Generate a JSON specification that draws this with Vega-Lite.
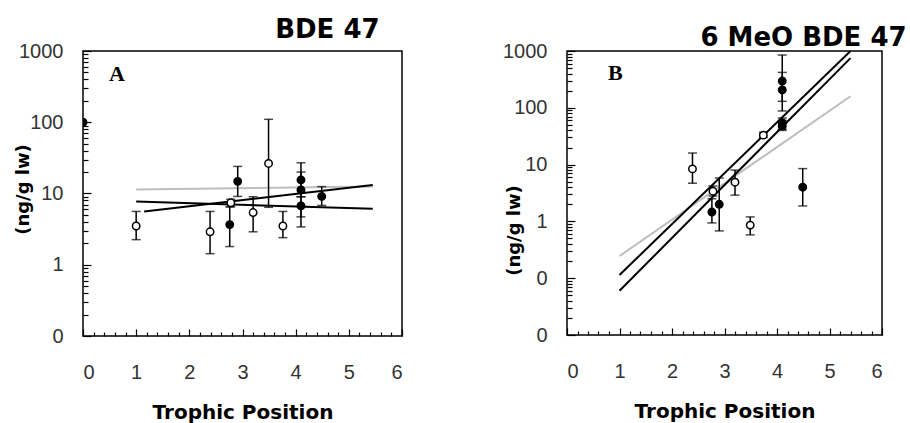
{
  "$schema": "https://vega.github.io/schema/vega-lite/v6.json",
  "padding": {"left": 13, "top": 16, "right": 2, "bottom": 2},
  "spacing": 97,
  "config": {
    "view": {"stroke": "black", "strokeWidth": 1.5},
    "axis": {"domain": false, "grid": false, "labelFont": "Liberation Sans", "labelFontSize": 20, "labelFontWeight": "normal", "labelColor": "#333", "titleFont": "DejaVu Sans", "titleFontWeight": "bold", "titleColor": "black", "tickColor": "black", "tickWidth": 1.2, "labelOverlap": false},
    "title": {"font": "DejaVu Sans", "fontWeight": "bold", "fontSize": 26, "color": "black"}
  },
  "datasets": {
    "pts": [
      {"panel": "A", "x": 1.0, "y": 3.5, "lo": 2.25, "hi": 5.6, "kind": "open"},
      {"panel": "A", "x": 2.39, "y": 2.9, "lo": 1.43, "hi": 5.6, "kind": "open"},
      {"panel": "A", "x": 2.78, "y": 7.4, "lo": 6.5, "hi": 8.3, "kind": "open"},
      {"panel": "A", "x": 3.2, "y": 5.4, "lo": 2.9, "hi": 9.0, "kind": "open"},
      {"panel": "A", "x": 3.49, "y": 26.4, "lo": 6.4, "hi": 110, "kind": "open"},
      {"panel": "A", "x": 3.76, "y": 3.5, "lo": 2.4, "hi": 5.6, "kind": "open"},
      {"panel": "A", "x": 2.76, "y": 3.66, "lo": 1.8, "hi": 6.5, "kind": "filled"},
      {"panel": "A", "x": 2.91, "y": 14.8, "lo": 9.1, "hi": 24, "kind": "filled"},
      {"panel": "A", "x": 4.1, "y": 15.5, "lo": 9.0, "hi": 27, "kind": "filled"},
      {"panel": "A", "x": 4.1, "y": 11.2, "lo": 4.7, "hi": 20, "kind": "filled"},
      {"panel": "A", "x": 4.1, "y": 6.7, "lo": 3.4, "hi": 9.0, "kind": "filled"},
      {"panel": "A", "x": 4.49, "y": 9.1, "lo": 6.8, "hi": 12.5, "kind": "filled"},
      {"panel": "A", "x": 0.0, "y": 100, "lo": null, "hi": null, "kind": "filled"},
      {"panel": "B", "x": 2.39, "y": 8.4, "lo": 4.7, "hi": 16, "kind": "open"},
      {"panel": "B", "x": 2.78, "y": 3.4, "lo": 2.8, "hi": 4.2, "kind": "open"},
      {"panel": "B", "x": 3.2, "y": 4.9, "lo": 2.9, "hi": 8.0, "kind": "open"},
      {"panel": "B", "x": 3.49, "y": 0.86, "lo": 0.58, "hi": 1.2, "kind": "open"},
      {"panel": "B", "x": 3.74, "y": 33, "lo": 30, "hi": 37, "kind": "open"},
      {"panel": "B", "x": 2.76, "y": 1.46, "lo": 0.94, "hi": 2.5, "kind": "filled"},
      {"panel": "B", "x": 2.9, "y": 2.0, "lo": 0.68, "hi": 5.8, "kind": "filled"},
      {"panel": "B", "x": 4.1, "y": 296, "lo": 130, "hi": 850, "kind": "filled"},
      {"panel": "B", "x": 4.1, "y": 206, "lo": 88, "hi": 420, "kind": "filled"},
      {"panel": "B", "x": 4.1, "y": 54, "lo": 40, "hi": 66, "kind": "filled"},
      {"panel": "B", "x": 4.1, "y": 48, "lo": 42, "hi": 60, "kind": "filled"},
      {"panel": "B", "x": 4.49, "y": 4.0, "lo": 1.87, "hi": 8.5, "kind": "filled"}
    ],
    "fits": [
      {"panel": "A", "fit": "all", "x": 1.0, "y": 11.4},
      {"panel": "A", "fit": "all", "x": 5.45, "y": 12.5},
      {"panel": "A", "fit": "open", "x": 1.0, "y": 7.7},
      {"panel": "A", "fit": "open", "x": 5.45, "y": 6.1},
      {"panel": "A", "fit": "filled", "x": 1.15, "y": 5.6},
      {"panel": "A", "fit": "filled", "x": 5.45, "y": 13.2},
      {"panel": "B", "fit": "all", "x": 1.0, "y": 0.246},
      {"panel": "B", "fit": "all", "x": 5.4, "y": 160},
      {"panel": "B", "fit": "open", "x": 1.0, "y": 0.114},
      {"panel": "B", "fit": "open", "x": 5.4, "y": 1000},
      {"panel": "B", "fit": "filled", "x": 1.0, "y": 0.06},
      {"panel": "B", "fit": "filled", "x": 5.4, "y": 750}
    ],
    "letters": [
      {"panel": "A", "x": 0.49, "y": 378, "text": "A"},
      {"panel": "B", "x": 0.78, "y": 309, "text": "B"}
    ]
  },
  "hconcat": [
    {
      "width": 319,
      "height": 285,
      "title": {"text": "BDE 47", "anchor": "end", "baseline": "alphabetic", "offset": -23, "dx": -23},
      "resolve": {"axis": {"x": "independent", "y": "independent"}},
      "layer": [
        {
          "data": {"name": "fits"},
          "transform": [{"filter": "datum.panel == 'A'"}],
          "mark": {"type": "point", "opacity": 0},
          "encoding": {
            "x": {"field": "x", "type": "quantitative", "scale": {"domain": [0, 6], "nice": false, "zero": false},
              "axis": {"orient": "bottom", "title": null, "labels": false, "tickSize": 4, "offset": -4,
                "values": [0.2,0.4,0.6,0.8,1.2,1.4,1.6,1.8,2.2,2.4,2.6,2.8,3.2,3.4,3.6,3.8,4.2,4.4,4.6,4.8,5.2,5.4,5.6,5.8]}},
            "y": {"field": "y", "type": "quantitative", "scale": {"type": "log", "domain": [0.1, 1000], "nice": false},
              "axis": {"orient": "left", "title": null, "labels": false, "tickSize": 5, "offset": -5,
                "values": [0.2,0.3,0.4,0.5,0.6,0.7,0.8,0.9,2,3,4,5,6,7,8,9,20,30,40,50,60,70,80,90,200,300,400,500,600,700,800,900]}}
          }
        },
        {
          "encoding": {
            "x": {"field": "x", "type": "quantitative", "scale": {"domain": [0, 6], "nice": false, "zero": false},
              "axis": {"orient": "bottom", "title": "Trophic Position", "titleFontSize": 20, "titlePadding": 20,
                "values": [0, 1, 2, 3, 4, 5, 6], "format": "d", "tickSize": 7, "offset": -7, "labelPadding": 26}},
            "y": {"field": "y", "type": "quantitative", "scale": {"type": "log", "domain": [0.1, 1000], "nice": false},
              "axis": {"orient": "left", "title": "(ng/g lw)", "titleFontSize": 18, "titleAngle": 270, "titleAlign": "center", "titleBaseline": "middle", "titleX": -68, "titleY": 138,
                "values": [0.1, 1, 10, 100, 1000],
                "labelExpr": "datum.value < 1 ? '0' : format(datum.value, 'd')",
                "tickSize": 8, "offset": -8, "labelPadding": 20}}
          },
          "layer": [
            {
              "data": {"name": "fits"},
              "transform": [{"filter": "datum.panel == 'A'"}],
              "mark": {"type": "line", "clip": true},
              "encoding": {
                "detail": {"field": "fit"},
                "color": {"field": "fit", "type": "nominal", "scale": {"domain": ["all", "open", "filled"], "range": ["#bdbdbd", "black", "black"]}, "legend": null},
                "strokeWidth": {"field": "fit", "type": "nominal", "scale": {"domain": ["all", "open", "filled"], "range": [2, 2, 2]}, "legend": null}
              }
            },
            {
              "data": {"name": "pts"},
              "transform": [{"filter": "datum.panel == 'A' && datum.lo != null"}],
              "mark": {"type": "rule", "color": "black", "strokeWidth": 1.5},
              "encoding": {"y": {"field": "lo", "type": "quantitative"}, "y2": {"field": "hi"}}
            },
            {
              "data": {"name": "pts"},
              "transform": [{"filter": "datum.panel == 'A' && datum.lo != null"}],
              "mark": {"type": "tick", "orient": "horizontal", "color": "black", "size": 9, "thickness": 1.5},
              "encoding": {"y": {"field": "lo", "type": "quantitative"}}
            },
            {
              "data": {"name": "pts"},
              "transform": [{"filter": "datum.panel == 'A' && datum.lo != null"}],
              "mark": {"type": "tick", "orient": "horizontal", "color": "black", "size": 9, "thickness": 1.5},
              "encoding": {"y": {"field": "hi", "type": "quantitative"}}
            },
            {
              "data": {"name": "pts"},
              "transform": [{"filter": "datum.panel == 'A'"}],
              "mark": {"type": "point", "shape": "circle", "size": 55, "stroke": "black", "strokeWidth": 1.5, "opacity": 1, "clip": true},
              "encoding": {"fill": {"field": "kind", "type": "nominal", "scale": {"domain": ["open", "filled"], "range": ["white", "black"]}, "legend": null}}
            },
            {
              "data": {"name": "letters"},
              "transform": [{"filter": "datum.panel == 'A'"}],
              "mark": {"type": "text", "font": "Liberation Serif", "fontWeight": "bold", "fontSize": 22, "align": "left", "baseline": "alphabetic", "color": "black"},
              "encoding": {"text": {"field": "text"}}
            }
          ]
        }
      ]
    },
    {
      "width": 315,
      "height": 284,
      "title": {"text": "6 MeO BDE 47", "anchor": "end", "baseline": "alphabetic", "offset": -31, "dx": 24},
      "resolve": {"axis": {"x": "independent", "y": "independent"}},
      "layer": [
        {
          "data": {"name": "fits"},
          "transform": [{"filter": "datum.panel == 'B'"}],
          "mark": {"type": "point", "opacity": 0},
          "encoding": {
            "x": {"field": "x", "type": "quantitative", "scale": {"domain": [0, 6], "nice": false, "zero": false},
              "axis": {"orient": "bottom", "title": null, "labels": false, "tickSize": 4, "offset": -4,
                "values": [0.2,0.4,0.6,0.8,1.2,1.4,1.6,1.8,2.2,2.4,2.6,2.8,3.2,3.4,3.6,3.8,4.2,4.4,4.6,4.8,5.2,5.4,5.6,5.8]}},
            "y": {"field": "y", "type": "quantitative", "scale": {"type": "log", "domain": [0.01, 1000], "nice": false},
              "axis": {"orient": "left", "title": null, "labels": false, "tickSize": 5, "offset": -5,
                "values": [0.02,0.03,0.04,0.05,0.06,0.07,0.08,0.09,0.2,0.3,0.4,0.5,0.6,0.7,0.8,0.9,2,3,4,5,6,7,8,9,20,30,40,50,60,70,80,90,200,300,400,500,600,700,800,900]}}
          }
        },
        {
          "encoding": {
            "x": {"field": "x", "type": "quantitative", "scale": {"domain": [0, 6], "nice": false, "zero": false},
              "axis": {"orient": "bottom", "title": "Trophic Position", "titleFontSize": 20, "titlePadding": 20,
                "values": [0, 1, 2, 3, 4, 5, 6], "format": "d", "tickSize": 7, "offset": -7, "labelPadding": 26}},
            "y": {"field": "y", "type": "quantitative", "scale": {"type": "log", "domain": [0.01, 1000], "nice": false},
              "axis": {"orient": "left", "title": "(ng/g lw)", "titleFontSize": 18, "titleAngle": 270, "titleAlign": "center", "titleBaseline": "middle", "titleX": -61, "titleY": 179,
                "values": [0.01, 0.1, 1, 10, 100, 1000],
                "labelExpr": "datum.value < 1 ? '0' : format(datum.value, 'd')",
                "tickSize": 8, "offset": -8, "labelPadding": 20}}
          },
          "layer": [
            {
              "data": {"name": "fits"},
              "transform": [{"filter": "datum.panel == 'B'"}],
              "mark": {"type": "line", "clip": true},
              "encoding": {
                "detail": {"field": "fit"},
                "color": {"field": "fit", "type": "nominal", "scale": {"domain": ["all", "open", "filled"], "range": ["#bdbdbd", "black", "black"]}, "legend": null},
                "strokeWidth": {"field": "fit", "type": "nominal", "scale": {"domain": ["all", "open", "filled"], "range": [2, 2.2, 1.2]}, "legend": null}
              }
            },
            {
              "data": {"name": "pts"},
              "transform": [{"filter": "datum.panel == 'B' && datum.lo != null"}],
              "mark": {"type": "rule", "color": "black", "strokeWidth": 1.5},
              "encoding": {"y": {"field": "lo", "type": "quantitative"}, "y2": {"field": "hi"}}
            },
            {
              "data": {"name": "pts"},
              "transform": [{"filter": "datum.panel == 'B' && datum.lo != null"}],
              "mark": {"type": "tick", "orient": "horizontal", "color": "black", "size": 9, "thickness": 1.5},
              "encoding": {"y": {"field": "lo", "type": "quantitative"}}
            },
            {
              "data": {"name": "pts"},
              "transform": [{"filter": "datum.panel == 'B' && datum.lo != null"}],
              "mark": {"type": "tick", "orient": "horizontal", "color": "black", "size": 9, "thickness": 1.5},
              "encoding": {"y": {"field": "hi", "type": "quantitative"}}
            },
            {
              "data": {"name": "pts"},
              "transform": [{"filter": "datum.panel == 'B'"}],
              "mark": {"type": "point", "shape": "circle", "size": 55, "stroke": "black", "strokeWidth": 1.5, "opacity": 1, "clip": true},
              "encoding": {"fill": {"field": "kind", "type": "nominal", "scale": {"domain": ["open", "filled"], "range": ["white", "black"]}, "legend": null}}
            },
            {
              "data": {"name": "letters"},
              "transform": [{"filter": "datum.panel == 'B'"}],
              "mark": {"type": "text", "font": "Liberation Serif", "fontWeight": "bold", "fontSize": 22, "align": "left", "baseline": "alphabetic", "color": "black"},
              "encoding": {"text": {"field": "text"}}
            }
          ]
        }
      ]
    }
  ]
}
